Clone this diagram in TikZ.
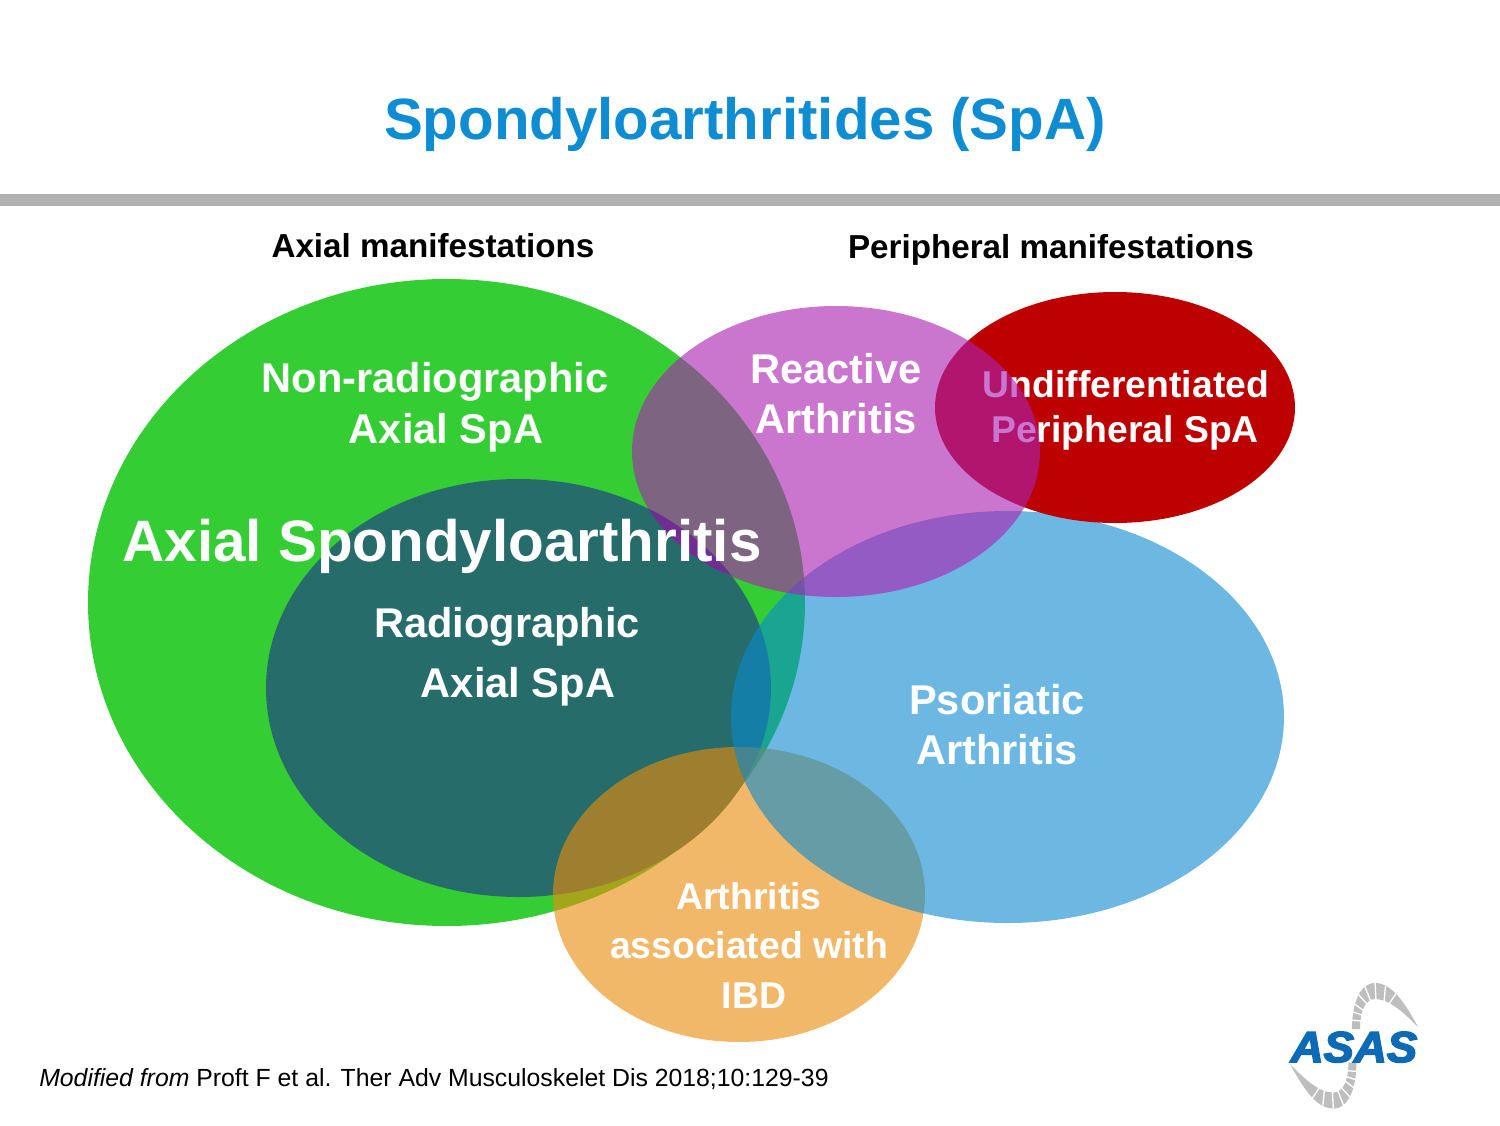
\documentclass[tikz,border=0pt]{standalone}
\usepackage{fontspec}
\setmainfont{Liberation Sans}
\newfontfamily\logofont[FakeBold=3.5]{Liberation Sans}
\definecolor{titleblue}{RGB}{15,141,210}
\definecolor{barcol}{RGB}{178,178,178}
\definecolor{axialgreen}{RGB}{52,206,52}
\definecolor{darkteal}{RGB}{38,108,106}
\definecolor{sliver}{RGB}{112,46,147}
\definecolor{reactpurple}{RGB}{171,35,177}
\definecolor{undiffred}{RGB}{189,0,0}
\definecolor{psorblue}{RGB}{10,138,207}
\definecolor{ibdorange}{RGB}{235,140,10}
\definecolor{logoblue}{RGB}{14,106,180}
\definecolor{logogray}{RGB}{190,190,190}
\tikzset{
	blob/.style={draw=none},
	big/.style={anchor=base, text=white, font=\bfseries\fontsize{31.2}{31.2}\selectfont, inner sep=0pt},
	mid/.style={big, font=\bfseries\fontsize{28}{28}\selectfont},
	head/.style={anchor=base, text=black, font=\bfseries\fontsize{24.9}{24.9}\selectfont, inner sep=0pt}
}
\begin{document}
\begin{tikzpicture}[x=.75pt, y=-.75pt]
	\useasboundingbox (0,0) rectangle (1500,1125);
	\fill[white] (0,0) rectangle (1500,1125);
	\fill[barcol] (0,194) rectangle (1500,206);
	\node[anchor=base, text=titleblue, font=\bfseries\fontsize{43.7}{43.7}\selectfont, inner sep=0pt] (title) at (745,139) {Spondyloarthritides (SpA)};
	\node[head] (axhead) at (433,257) {Axial manifestations};
	\node[head] (perhead) at (1051,258) {Peripheral manifestations};
	% ellipses, bottom to top
	\draw[blob, fill=axialgreen] (446.5,602.5) ellipse [x radius=358.5, y radius=323.5];
	\draw[blob, fill=darkteal] (518.5,688) ellipse [x radius=252.5, y radius=209];
	\draw[blob, fill=ibdorange, fill opacity=.61] (739,894.5) ellipse [x radius=186, y radius=147.5];
	\draw[blob, fill=psorblue, fill opacity=.6] (1007.5,717) ellipse [x radius=276.5, y radius=206];
	\draw[blob, fill=undiffred] (1115,407.5) ellipse [x radius=180, y radius=115.5];
	\node[mid] (undiff) at (1126,397) {Undifferentiated};
	\node[mid] (perspa) at (1125,442) {Peripheral SpA};
	\draw[blob, fill=reactpurple, fill opacity=.62] (836,451.5) ellipse [x radius=204, y radius=145.5];
	% teal stays on top of the purple, apart from a thin strip
	\begin{scope}
		\clip (836,451.5) ellipse [x radius=204, y radius=145.5];
		\draw[blob, fill=darkteal] (518.5,688) ellipse [x radius=252.5, y radius=209];
		\clip (518.5,688) ellipse [x radius=252.5, y radius=209];
		\fill[sliver] (647,508) .. controls (672,542) and (695,565) .. (732,575) -- (760,500) -- (640,470) -- cycle;
	\end{scope}
	\node[big] (nonrad) at (435,392) {Non-radiographic};
	\node[big] (nonspa) at (446,443) {Axial SpA};
	\node[anchor=base, text=white, font=\bfseries\fontsize{43.8}{43.8}\selectfont, inner sep=0pt] (axspa) at (442,561) {Axial Spondyloarthritis};
	\node[big] (rad) at (507,637) {Radiographic};
	\node[big] (radspa) at (518,697) {Axial SpA};
	\node[big] (react) at (836,383) {Reactive};
	\node[big] (reactar) at (836,433) {Arthritis};
	\node[big] (psor) at (997,714) {Psoriatic};
	\node[big] (psorar) at (997,764) {Arthritis};
	\node[mid] (ibda) at (749,909) {Arthritis};
	\node[mid] (ibdb) at (749,958) {associated with};
	\node[mid] (ibdc) at (754,1008) {IBD};
	\node[anchor=base west, inner sep=0pt, font=\fontsize{18.6}{18.6}\selectfont] (source) at (39,1086) {\textit{Modified from} Proft F et al. Ther Adv Musculoskelet Dis 2018;10:129-39};
	% logo: two gray bands, the second one turned half way round
	\foreach \a in {0,180} {
		\begin{scope}[rotate around={\a:(1354.2,1045.8)}]
			\fill[logogray] (1418,1027) .. controls (1405,1003) and (1392,983) .. (1375,983) .. controls (1360,983) and (1352,1003) .. (1352,1029) -- (1360,1029) .. controls (1360,1012) and (1365,999) .. (1375,999) .. controls (1390,999) and (1405,1014) .. (1418,1027) -- cycle;
			\foreach \x/\y/\u/\v in {1397/992/1389/1004, 1385.5/986/1384/1002, 1375/981/1376/1001, 1364/984/1371/1002, 1357/993/1367/1004, 1352/1002/1364/1011, 1350/1011/1362/1015, 1350/1020/1362/1021} {
				\draw[white, line width=1pt] (\x,\y) -- (\u,\v);
			}
		\end{scope}
	}
	\node[inner sep=0pt, text=logoblue, anchor=base, xscale=1.05, font=\logofont\bfseries\itshape\fontsize{32.5}{32.5}\selectfont] (asas) at (1354,1062) {ASAS};
\end{tikzpicture}
\end{document}
